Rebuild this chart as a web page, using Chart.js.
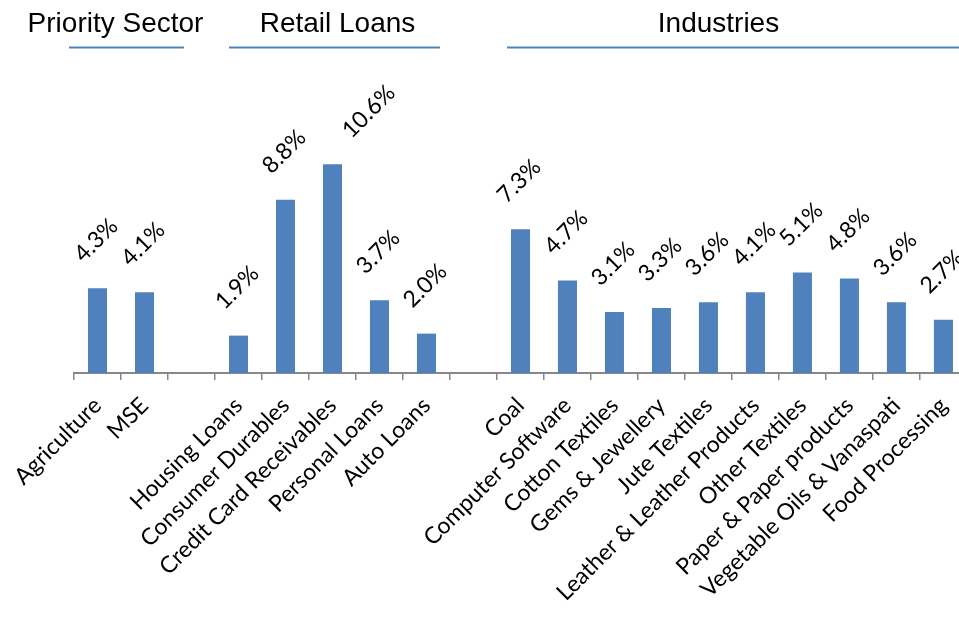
<!DOCTYPE html>
<html>
<head>
<meta charset="utf-8">
<script src="https://cdn.jsdelivr.net/npm/chart.js@4.4.1/dist/chart.umd.min.js"></script>
<style>
  html, body { margin: 0; padding: 0; background: #fff; overflow: hidden; }
  #wrap { width: 975px; height: 619px; }
</style>
</head>
<body>
<div id="wrap"><canvas id="chart" width="975" height="619"></canvas></div>
<script>
// categories (empty strings are the gaps between groups)
const categories = [
    'Agriculture', 'MSE', '',
    'Housing Loans', 'Consumer Durables', 'Credit Card Receivables', 'Personal Loans', 'Auto Loans', '',
    'Coal', 'Computer Software', 'Cotton Textiles', 'Gems & Jewellery', 'Jute Textiles',
    'Leather & Leather Products', 'Other Textiles', 'Paper & Paper products',
    'Vegetable Oils & Vanaspati', 'Food Processing'
];

// share in percent
const shareValues = [
    4.3, 4.1, null,
    1.9, 8.8, 10.6, 3.7, 2.0, null,
    7.3, 4.7, 3.1, 3.3, 3.6, 4.1, 5.1, 4.8, 3.6, 2.7
];

const groupNames = ['Priority Sector', 'Retail Loans', 'Industries'];

const BAR_BLUE = '#4f81bd';
const AXIS_GREY = '#878787';

// header text with underline above each group
const groupHeaders = {
    id: 'groupHeaders',
    afterDraw(chart, args, opts) {
        const ctx = chart.ctx;
        ctx.save();
        ctx.font = '28px "Liberation Sans", Arial, sans-serif';
        ctx.fillStyle = '#000';
        ctx.textAlign = 'center';
        ctx.textBaseline = 'alphabetic';
        opts.spans.forEach((s, i) => {
            ctx.fillText(groupNames[i], s.cx, 32);
            ctx.strokeStyle = BAR_BLUE;
            ctx.lineWidth = 2;
            ctx.beginPath();
            ctx.moveTo(s.x1, 47.5);
            ctx.lineTo(s.x2, 47.5);
            ctx.stroke();
        });
        ctx.restore();
    }
};

// rotated value labels above the bars
const valueLabels = {
    id: 'valueLabels',
    afterDatasetsDraw(chart, args, opts) {
        const ctx = chart.ctx;
        const meta = chart.getDatasetMeta(0);
        ctx.save();
        ctx.font = '23px Lato, "Open Sans", sans-serif';
        ctx.fillStyle = '#000';
        ctx.textAlign = 'left';
        ctx.textBaseline = 'alphabetic';
        meta.data.forEach((bar, i) => {
            const v = shareValues[i];
            if (v === null) return;
            const shift = (opts.shift && opts.shift[i]) || 0;
            ctx.save();
            ctx.translate(bar.x - 14 + shift, bar.y - 25);
            ctx.rotate(-Math.PI / 4);
            ctx.fillText(v.toFixed(1) + '%', 0, 0);
            ctx.restore();
        });
        ctx.restore();
    }
};

new Chart(document.getElementById('chart').getContext('2d'), {
    type: 'bar',
    data: {
        labels: categories,
        datasets: [{
            data: shareValues,
            backgroundColor: BAR_BLUE,
            borderColor: BAR_BLUE,
            borderWidth: 0,
            barPercentage: 0.405,
            categoryPercentage: 1.0
        }]
    },
    options: {
        responsive: false,
        animation: false,
        layout: { padding: { left: 74, right: 2, top: 58, bottom: 0 } },
        plugins: {
            legend: { display: false },
            tooltip: { enabled: false },
            groupHeaders: {
                spans: [
                    { cx: 115.5, x1: 69, x2: 184 },
                    { cx: 337.5, x1: 229, x2: 440 },
                    { cx: 718.5, x1: 507, x2: 975 }
                ]
            },
            valueLabels: { shift: { 5: 33 } }
        },
        scales: {
            x: {
                offset: true,
                grid: {
                    display: true,
                    offset: true,
                    drawOnChartArea: false,
                    drawTicks: true,
                    tickLength: 7,
                    color: AXIS_GREY,
                    lineWidth: 1.5
                },
                border: { display: true, color: AXIS_GREY, width: 2 },
                ticks: {
                    color: '#000',
                    font: { family: 'Lato, "Open Sans", sans-serif', size: 23 },
                    minRotation: 45,
                    maxRotation: 45,
                    autoSkip: false,
                    padding: 12
                },
                afterFit(scale) { scale.height = 246; }
            },
            y: {
                display: false,
                min: 0,
                max: 16
            }
        }
    },
    plugins: [groupHeaders, valueLabels]
});
</script>
</body>
</html>
